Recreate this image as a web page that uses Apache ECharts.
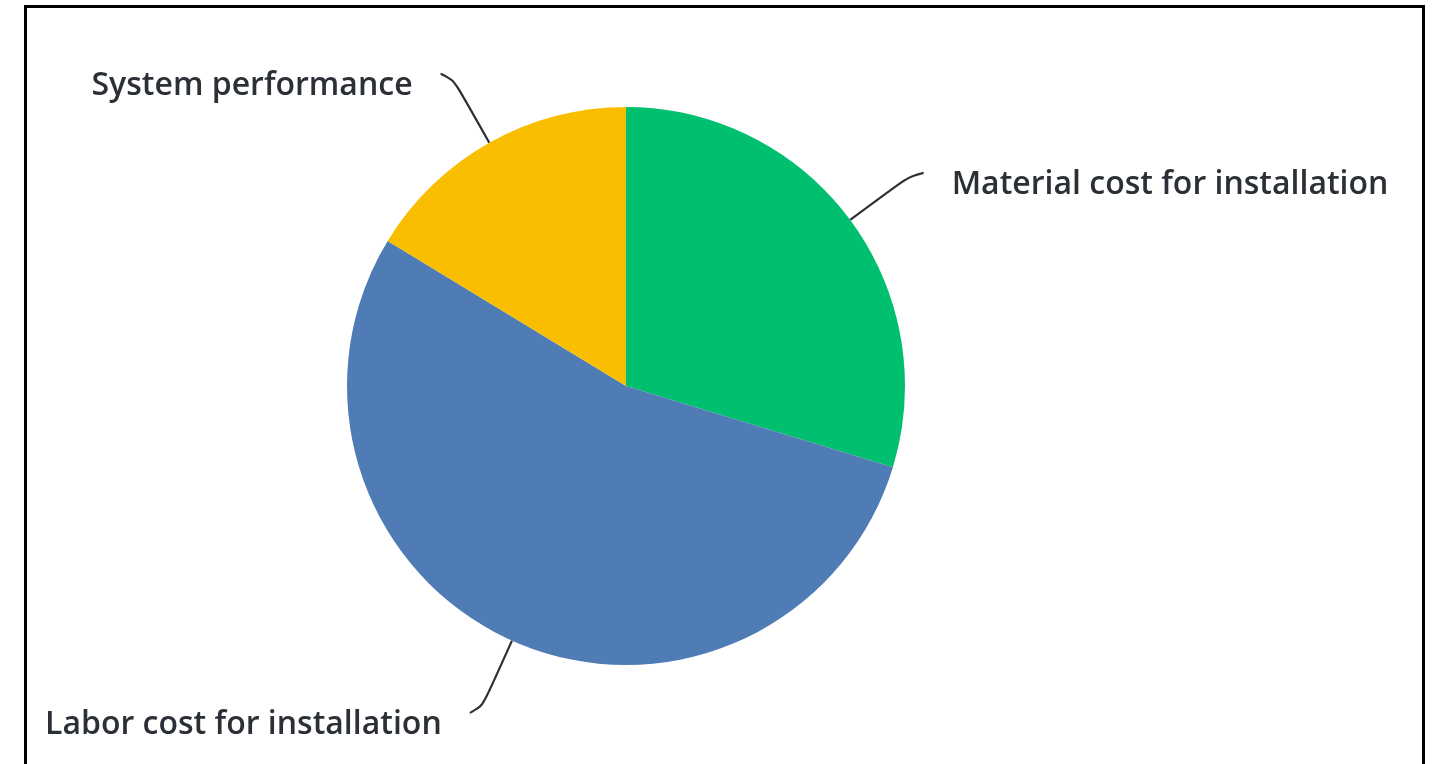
<!DOCTYPE html>
<html>
<head>
<meta charset="utf-8">
<script src="https://cdn.jsdelivr.net/npm/echarts@6/dist/echarts.min.js"></script>
<style>
  html, body { margin: 0; padding: 0; background: #fff; overflow: hidden; }
  #frame { position: absolute; left: 24px; top: 5px; width: 1401px; height: 820px; border: 3px solid #000; box-sizing: border-box; }
  #chart { position: absolute; left: 0; top: 0; width: 1439px; height: 764px; }
</style>
</head>
<body>
<div id="frame"></div>
<div id="chart"></div>
<script>
const categories = ["Material cost for installation", "Labor cost for installation", "System performance"];
const values = [29.7, 54.0, 16.3];
const colors = ["#00BF6F", "#507CB6", "#F9BE00"];

const chart = echarts.init(document.getElementById('chart'), null, { renderer: 'canvas' });
chart.setOption({
  backgroundColor: 'transparent',
  animation: false,
  series: [{
    type: 'pie',
    center: [626, 386],
    radius: 279,
    startAngle: 90,
    clockwise: true,
    avoidLabelOverlap: false,
    data: categories.map((c, i) => ({ name: c, value: values[i], itemStyle: { color: colors[i] } })),
    itemStyle: { borderWidth: 0 },
    label: {
      show: true,
      formatter: '{t|{b}}',
      distanceToLabelLine: 28,
      rich: {
        t: {
          color: '#2b2f36',
          fontFamily: '"Open Sans", sans-serif',
          fontWeight: 600,
          fontSize: 32,
          padding: [24, 0, 0, 0]
        }
      }
    },
    labelLine: {
      show: true,
      length: 79,
      length2: 10,
      smooth: 0.9,
      lineStyle: { color: '#2b2f36', width: 2.2 }
    },
    emphasis: { disabled: true }
  }]
});
</script>
</body>
</html>
